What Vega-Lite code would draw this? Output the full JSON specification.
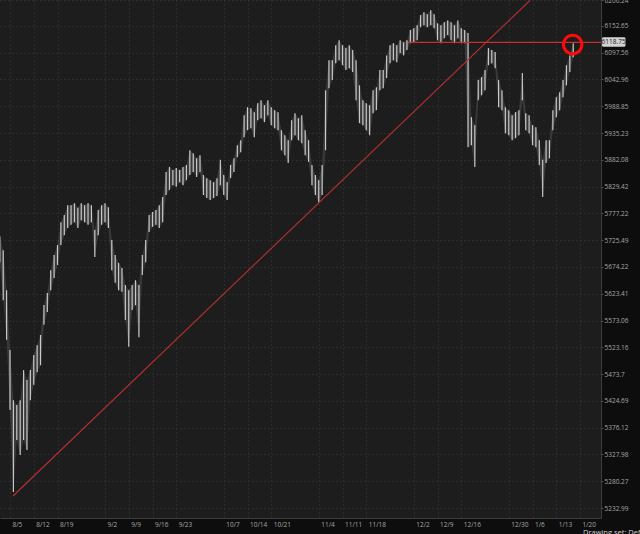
{
  "$schema": "https://vega.github.io/schema/vega-lite/v6.json",
  "width": 601,
  "height": 518,
  "autosize": {"type": "none"},
  "padding": {"left": 0, "top": 0, "right": 39, "bottom": 16},
  "background": "#0d0d0d",
  "config": {
    "view": {"fill": "#1d1d1d", "stroke": null},
    "axis": {"labelFont": "Open Sans", "labelFontSize": 6.5, "labelColor": "#a6a6a6", "gridColor": "#3a3a3a", "gridDash": [1, 3], "gridWidth": 1, "domainColor": "#3c3c3c", "tickColor": "#555555", "title": null, "labelOverlap": false, "labelFlush": false, "labelBound": false}
  },
  "datasets": {
    "bars": [
      {"d":"2024-08-02T00:00","lo":5683,"hi":5733},{"d":"2024-08-03T00:00","lo":5611,"hi":5706},{"d":"2024-08-04T00:00","lo":5537,"hi":5630},{"d":"2024-08-05T00:00","lo":5408,"hi":5518},{"d":"2024-08-06T00:00","lo":5261,"hi":5426},{"d":"2024-08-07T00:00","lo":5354,"hi":5417},{"d":"2024-08-08T00:00","lo":5327,"hi":5426},{"d":"2024-08-09T00:00","lo":5354,"hi":5481},{"d":"2024-08-10T00:00","lo":5336,"hi":5463},{"d":"2024-08-11T00:00","lo":5426,"hi":5481},{"d":"2024-08-12T00:00","lo":5454,"hi":5509},{"d":"2024-08-13T00:00","lo":5477,"hi":5527},{"d":"2024-08-14T00:00","lo":5490,"hi":5546},{"d":"2024-08-15T00:00","lo":5565,"hi":5602},{"d":"2024-08-16T00:00","lo":5589,"hi":5625},{"d":"2024-08-17T00:00","lo":5630,"hi":5668},{"d":"2024-08-18T00:00","lo":5653,"hi":5697},{"d":"2024-08-19T00:00","lo":5678,"hi":5716},{"d":"2024-08-20T00:00","lo":5716,"hi":5760},{"d":"2024-08-21T00:00","lo":5735,"hi":5774},{"d":"2024-08-22T00:00","lo":5749,"hi":5793},{"d":"2024-08-23T00:00","lo":5755,"hi":5793},{"d":"2024-08-24T00:00","lo":5760,"hi":5797},{"d":"2024-08-25T00:00","lo":5749,"hi":5788},{"d":"2024-08-26T00:00","lo":5764,"hi":5797},{"d":"2024-08-27T00:00","lo":5760,"hi":5793},{"d":"2024-08-28T00:00","lo":5755,"hi":5797},{"d":"2024-08-29T00:00","lo":5760,"hi":5793},{"d":"2024-08-30T00:00","lo":5693,"hi":5745},{"d":"2024-08-31T00:00","lo":5735,"hi":5784},
      {"d":"2024-09-01T00:00","lo":5755,"hi":5793},{"d":"2024-09-02T00:00","lo":5760,"hi":5797},{"d":"2024-09-03T00:00","lo":5749,"hi":5789},{"d":"2024-09-04T00:00","lo":5668,"hi":5726},{"d":"2024-09-05T00:00","lo":5644,"hi":5697},{"d":"2024-09-06T00:00","lo":5630,"hi":5682},{"d":"2024-09-07T00:00","lo":5627,"hi":5672},{"d":"2024-09-08T00:00","lo":5574,"hi":5640},{"d":"2024-09-09T00:00","lo":5524,"hi":5630},{"d":"2024-09-10T00:00","lo":5593,"hi":5640},{"d":"2024-09-11T00:00","lo":5602,"hi":5649},{"d":"2024-09-12T00:00","lo":5542,"hi":5640},{"d":"2024-09-13T00:00","lo":5659,"hi":5697},{"d":"2024-09-14T00:00","lo":5683,"hi":5726},{"d":"2024-09-15T00:00","lo":5741,"hi":5774},{"d":"2024-09-16T00:00","lo":5751,"hi":5780},{"d":"2024-09-17T00:00","lo":5755,"hi":5784},{"d":"2024-09-18T00:00","lo":5749,"hi":5793},{"d":"2024-09-19T00:00","lo":5760,"hi":5809},{"d":"2024-09-20T00:00","lo":5813,"hi":5858},{"d":"2024-09-21T00:00","lo":5823,"hi":5868},{"d":"2024-09-22T00:00","lo":5832,"hi":5862},{"d":"2024-09-23T00:00","lo":5829,"hi":5866},{"d":"2024-09-24T00:00","lo":5838,"hi":5862},{"d":"2024-09-25T00:00","lo":5832,"hi":5868},{"d":"2024-09-26T00:00","lo":5842,"hi":5872},{"d":"2024-09-27T00:00","lo":5852,"hi":5901},{"d":"2024-09-28T00:00","lo":5858,"hi":5895},{"d":"2024-09-29T00:00","lo":5848,"hi":5885},{"d":"2024-09-30T00:00","lo":5858,"hi":5891},
      {"d":"2024-10-01T00:00","lo":5813,"hi":5852},{"d":"2024-10-02T00:00","lo":5807,"hi":5846},{"d":"2024-10-03T00:00","lo":5803,"hi":5842},{"d":"2024-10-04T00:00","lo":5807,"hi":5838},{"d":"2024-10-05T00:00","lo":5811,"hi":5846},{"d":"2024-10-06T00:00","lo":5832,"hi":5882},{"d":"2024-10-07T00:00","lo":5813,"hi":5852},{"d":"2024-10-08T00:00","lo":5803,"hi":5838},{"d":"2024-10-09T00:00","lo":5846,"hi":5872},{"d":"2024-10-10T00:00","lo":5858,"hi":5885},{"d":"2024-10-11T00:00","lo":5887,"hi":5911},{"d":"2024-10-12T00:00","lo":5897,"hi":5921},{"d":"2024-10-13T00:00","lo":5927,"hi":5971},{"d":"2024-10-14T00:00","lo":5941,"hi":5987},{"d":"2024-10-15T00:00","lo":5945,"hi":5985},{"d":"2024-10-16T00:00","lo":5927,"hi":5977},{"d":"2024-10-17T00:00","lo":5961,"hi":5995},{"d":"2024-10-18T00:00","lo":5965,"hi":6001},{"d":"2024-10-19T00:00","lo":5957,"hi":5991},{"d":"2024-10-20T00:00","lo":5971,"hi":6001},{"d":"2024-10-21T00:00","lo":5951,"hi":5987},{"d":"2024-10-22T00:00","lo":5945,"hi":5981},{"d":"2024-10-23T00:00","lo":5941,"hi":5977},{"d":"2024-10-24T00:00","lo":5901,"hi":5941},{"d":"2024-10-25T00:00","lo":5891,"hi":5931},{"d":"2024-10-26T00:00","lo":5876,"hi":5921},{"d":"2024-10-27T00:00","lo":5921,"hi":5961},{"d":"2024-10-28T00:00","lo":5931,"hi":5975},{"d":"2024-10-29T00:00","lo":5921,"hi":5965},{"d":"2024-10-30T00:00","lo":5915,"hi":5971},{"d":"2024-10-31T00:00","lo":5891,"hi":5941},
      {"d":"2024-11-01T00:00","lo":5878,"hi":5921},{"d":"2024-11-02T00:00","lo":5832,"hi":5872},{"d":"2024-11-03T00:00","lo":5813,"hi":5852},{"d":"2024-11-04T00:00","lo":5799,"hi":5842},{"d":"2024-11-05T00:00","lo":5813,"hi":5872},{"d":"2024-11-06T00:00","lo":5901,"hi":6021},{"d":"2024-11-07T00:00","lo":6025,"hi":6082},{"d":"2024-11-08T00:00","lo":6042,"hi":6082},{"d":"2024-11-09T00:00","lo":6076,"hi":6113},{"d":"2024-11-10T00:00","lo":6082,"hi":6123},{"d":"2024-11-11T00:00","lo":6072,"hi":6113},{"d":"2024-11-12T00:00","lo":6062,"hi":6107},{"d":"2024-11-13T00:00","lo":6066,"hi":6113},{"d":"2024-11-14T00:00","lo":6058,"hi":6103},{"d":"2024-11-15T00:00","lo":6001,"hi":6082},{"d":"2024-11-16T00:00","lo":5955,"hi":6031},{"d":"2024-11-17T00:00","lo":5951,"hi":6001},{"d":"2024-11-18T00:00","lo":5941,"hi":5995},{"d":"2024-11-19T00:00","lo":5931,"hi":5991},{"d":"2024-11-20T00:00","lo":5975,"hi":6021},{"d":"2024-11-21T00:00","lo":5981,"hi":6027},{"d":"2024-11-22T00:00","lo":6021,"hi":6062},{"d":"2024-11-23T00:00","lo":6025,"hi":6062},{"d":"2024-11-24T00:00","lo":6046,"hi":6092},{"d":"2024-11-25T00:00","lo":6076,"hi":6113},{"d":"2024-11-26T00:00","lo":6082,"hi":6117},{"d":"2024-11-27T00:00","lo":6078,"hi":6113},{"d":"2024-11-28T00:00","lo":6097,"hi":6123},{"d":"2024-11-29T00:00","lo":6092,"hi":6119},{"d":"2024-11-30T00:00","lo":6103,"hi":6123},
      {"d":"2024-12-01T00:00","lo":6117,"hi":6144},{"d":"2024-12-02T00:00","lo":6119,"hi":6148},{"d":"2024-12-03T00:00","lo":6123,"hi":6154},{"d":"2024-12-04T00:00","lo":6150,"hi":6175},{"d":"2024-12-05T00:00","lo":6154,"hi":6181},{"d":"2024-12-06T00:00","lo":6150,"hi":6177},{"d":"2024-12-07T00:00","lo":6154,"hi":6185},{"d":"2024-12-08T00:00","lo":6148,"hi":6177},{"d":"2024-12-09T00:00","lo":6123,"hi":6158},{"d":"2024-12-10T00:00","lo":6117,"hi":6154},{"d":"2024-12-11T00:00","lo":6127,"hi":6160},{"d":"2024-12-12T00:00","lo":6134,"hi":6164},{"d":"2024-12-13T00:00","lo":6123,"hi":6160},{"d":"2024-12-14T00:00","lo":6117,"hi":6154},{"d":"2024-12-15T00:00","lo":6127,"hi":6164},{"d":"2024-12-16T00:00","lo":6117,"hi":6148},{"d":"2024-12-17T00:00","lo":6117,"hi":6144},{"d":"2024-12-18T00:00","lo":5907,"hi":6138},{"d":"2024-12-19T00:00","lo":5911,"hi":5967},{"d":"2024-12-20T00:00","lo":5868,"hi":5951},{"d":"2024-12-21T00:00","lo":6001,"hi":6042},{"d":"2024-12-22T00:00","lo":6011,"hi":6048},{"d":"2024-12-23T00:00","lo":6021,"hi":6062},{"d":"2024-12-24T00:00","lo":6072,"hi":6107},{"d":"2024-12-25T00:00","lo":6076,"hi":6103},{"d":"2024-12-26T00:00","lo":6066,"hi":6099},{"d":"2024-12-27T00:00","lo":5987,"hi":6042},{"d":"2024-12-28T00:00","lo":5981,"hi":6021},{"d":"2024-12-29T00:00","lo":5935,"hi":5987},{"d":"2024-12-30T00:00","lo":5931,"hi":5981},{"d":"2024-12-31T00:00","lo":5921,"hi":5971},
      {"d":"2025-01-01T00:00","lo":5925,"hi":5977},{"d":"2025-01-02T00:00","lo":5931,"hi":5981},{"d":"2025-01-03T00:00","lo":6001,"hi":6056},{"d":"2025-01-04T00:00","lo":5941,"hi":5975},{"d":"2025-01-05T00:00","lo":5935,"hi":5971},{"d":"2025-01-06T00:00","lo":5911,"hi":5951},{"d":"2025-01-07T00:00","lo":5907,"hi":5947},{"d":"2025-01-08T00:00","lo":5872,"hi":5921},{"d":"2025-01-09T00:00","lo":5809,"hi":5882},{"d":"2025-01-10T00:00","lo":5876,"hi":5921},{"d":"2025-01-11T00:00","lo":5885,"hi":5921},{"d":"2025-01-12T00:00","lo":5941,"hi":5981},{"d":"2025-01-13T00:00","lo":5967,"hi":6007},{"d":"2025-01-14T00:00","lo":5981,"hi":6017},{"d":"2025-01-15T00:00","lo":6007,"hi":6042},{"d":"2025-01-16T00:00","lo":6031,"hi":6072},{"d":"2025-01-17T00:00","lo":6058,"hi":6092},{"d":"2025-01-18T00:00","lo":6088,"hi":6117}
    ],
    "trend": [{"d":"2024-08-05T21:13","p":5254.1,"d2":"2025-01-05T07:12","p2":6205.9}],
    "level": [{"d":"2024-11-30T07:00","p":6118.75,"d2":"2025-01-26T04:29"}],
    "mark": [{"d":"2025-01-17T20:10","p":6114.2}],
    "tag": [{"d":"2025-01-26T11:31","d2":"2025-02-02T09:50","p":6109.9,"p2":6129.4,"dc":"2025-01-29T21:36","pc":6118.75,"label":"6118.75"}],
    "footer": [{"d":"2025-01-20T21:07","p":5189.2,"label":"Drawing set: Default"}]
  },
  "layer": [
    {
      "data": {"name": "bars"},
      "mark": {"type": "area", "color": "#8a8a8a", "opacity": 0.25, "clip": true, "interpolate": "linear"},
      "encoding": {
        "x": {"field": "d", "type": "temporal",
          "scale": {"domain": [{"year": 2024, "month": 8, "date": 2, "hours": 1, "minutes": 16}, {"year": 2025, "month": 1, "date": 26, "hours": 4, "minutes": 29}], "nice": false},
          "axis": {"values": [{"year":2024,"month":8,"date":5},{"year":2024,"month":8,"date":12},{"year":2024,"month":8,"date":19},{"year":2024,"month":9,"date":2},{"year":2024,"month":9,"date":9},{"year":2024,"month":9,"date":16},{"year":2024,"month":9,"date":23},{"year":2024,"month":10,"date":7},{"year":2024,"month":10,"date":14},{"year":2024,"month":10,"date":21},{"year":2024,"month":11,"date":4},{"year":2024,"month":11,"date":11},{"year":2024,"month":11,"date":18},{"year":2024,"month":12,"date":2},{"year":2024,"month":12,"date":9},{"year":2024,"month":12,"date":16},{"year":2024,"month":12,"date":30},{"year":2025,"month":1,"date":6},{"year":2025,"month":1,"date":13},{"year":2025,"month":1,"date":20}],
            "tickCount": 60, "format": "%-m/%-d", "labelAlign": "left", "labelOffset": 2, "labelPadding": 3, "tickSize": 0, "grid": true, "labelFlush": false, "labelOverlap": false, "title": null}
        },
        "y": {"field": "lo", "type": "quantitative",
          "scale": {"type": "log", "domain": [5215.45, 6206.4], "nice": false, "zero": false},
          "axis": {"orient": "right", "values": [6206.24, 6152.65, 6097.56, 6042.96, 5988.85, 5935.23, 5882.08, 5829.42, 5777.22, 5725.49, 5674.22, 5623.41, 5573.06, 5523.16, 5473.7, 5424.69, 5376.12, 5327.98, 5280.27, 5232.99],
            "tickCount": 60, "labelExpr": "'' + datum.value", "labelAlign": "left", "labelBaseline": "middle", "labelPadding": 1, "tickSize": 2, "grid": true, "labelOverlap": false, "labelBound": false, "labelFlush": false, "title": null}
        },
        "y2": {"field": "hi"}
      }
    },
    {
      "data": {"name": "bars"},
      "mark": {"type": "rule", "color": "#c8c8c8", "strokeWidth": 1.2, "clip": true},
      "encoding": {
        "x": {"field": "d", "type": "temporal"},
        "y": {"field": "lo", "type": "quantitative"},
        "y2": {"field": "hi"}
      }
    },
    {
      "data": {"name": "trend"},
      "mark": {"type": "rule", "color": "#b8302f", "strokeWidth": 1.1, "clip": true},
      "encoding": {
        "x": {"field": "d", "type": "temporal"},
        "x2": {"field": "d2"},
        "y": {"field": "p", "type": "quantitative"},
        "y2": {"field": "p2"}
      }
    },
    {
      "data": {"name": "level"},
      "mark": {"type": "rule", "color": "#c8302e", "strokeWidth": 1.1, "clip": true},
      "encoding": {
        "x": {"field": "d", "type": "temporal"},
        "x2": {"field": "d2"},
        "y": {"field": "p", "type": "quantitative"}
      }
    },
    {
      "data": {"name": "mark"},
      "mark": {"type": "point", "shape": "circle", "filled": false, "color": "#ff0a0a", "strokeWidth": 3, "size": 340, "opacity": 1},
      "encoding": {
        "x": {"field": "d", "type": "temporal"},
        "y": {"field": "p", "type": "quantitative"}
      }
    },
    {
      "data": {"name": "tag"},
      "mark": {"type": "rect", "color": "#d2d2d2", "cornerRadius": 1.5, "clip": false},
      "encoding": {
        "x": {"field": "d", "type": "temporal"},
        "x2": {"field": "d2"},
        "y": {"field": "p", "type": "quantitative"},
        "y2": {"field": "p2"}
      }
    },
    {
      "data": {"name": "tag"},
      "mark": {"type": "text", "color": "#1a1a1a", "font": "Open Sans", "fontSize": 6.5, "clip": false},
      "encoding": {
        "x": {"field": "dc", "type": "temporal"},
        "y": {"field": "pc", "type": "quantitative"},
        "text": {"field": "label"}
      }
    },
    {
      "data": {"name": "footer"},
      "mark": {"type": "text", "color": "#d0d0d0", "font": "Open Sans", "fontSize": 7.5, "align": "left", "baseline": "middle", "clip": false},
      "encoding": {
        "x": {"field": "d", "type": "temporal"},
        "y": {"field": "p", "type": "quantitative"},
        "text": {"field": "label"}
      }
    }
  ]
}
